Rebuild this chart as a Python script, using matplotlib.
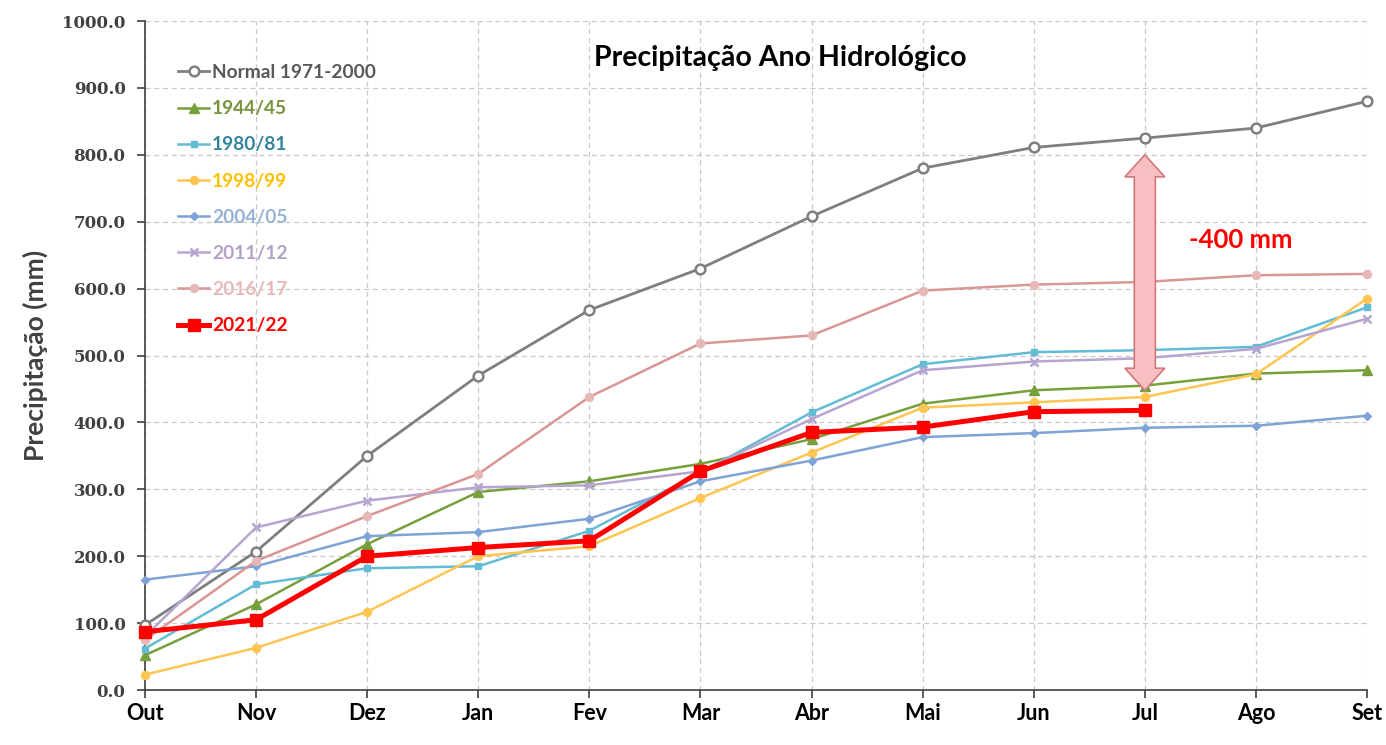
import numpy as np
import matplotlib
matplotlib.use("Agg")
import matplotlib.pyplot as plt
from matplotlib.patches import Polygon

plt.rcParams["font.family"] = ["Lato", "DejaVu Sans"]

# ---------------------------------------------------------------------------
# Data (precipitacao acumulada, mm)
# ---------------------------------------------------------------------------
months = ["Out", "Nov", "Dez", "Jan", "Fev", "Mar", "Abr", "Mai", "Jun", "Jul", "Ago", "Set"]

normal = [97, 207, 350, 470, 568, 630, 708, 780, 811, 825, 840, 880]
y1944 = [52, 128, 218, 296, 312, 338, 375, 428, 448, 455, 473, 478]
y1980 = [62, 158, 182, 185, 238, 325, 415, 487, 505, 508, 513, 572]
y1998 = [23, 63, 117, 200, 215, 287, 355, 422, 430, 438, 472, 585]
y2004 = [165, 185, 230, 236, 256, 312, 343, 378, 384, 392, 395, 410]
y2011 = [80, 243, 283, 303, 306, 327, 405, 478, 491, 496, 510, 555]
y2016 = [75, 193, 260, 323, 438, 518, 530, 597, 606, 610, 620, 622]
y2021 = [87, 105, 200, 213, 223, 327, 385, 393, 416, 418]

deficit_label = "-400 mm"

# label, values, line colour, marker, marker size, line width, text colour
series = [
    ("Normal 1971-2000", normal, "#7f7f7f", "o", 7, 2.0, "#595959"),
    ("1944/45", y1944, "#77a03c", "^", 7, 1.8, "#77933c"),
    ("1980/81", y1980, "#62bcd4", "s", 5, 1.8, "#31859c"),
    ("1998/99", y1998, "#ffc553", "o", 5, 1.8, "#ffc000"),
    ("2004/05", y2004, "#7ea3d6", "D", 4, 1.8, "#95b3d7"),
    ("2011/12", y2011, "#b6a5d0", "x", 6, 1.8, "#b3a2c7"),
    ("2016/17", y2016, "#d99694", "o", 5, 1.8, "#e6b9b8"),
    ("2021/22", y2021, "#ff0000", "s", 8, 3.6, "#ff0000"),
]

# ---------------------------------------------------------------------------
# Figure
# ---------------------------------------------------------------------------
fig = plt.figure(figsize=(13.86, 7.45), dpi=100)
ax = fig.add_axes([0.1046, 0.0738, 0.8817, 0.898])

for label, vals, color, marker, ms, lw, _ in series:
    x = np.arange(len(vals))
    if label.startswith("Normal"):
        mfc, mec = "white", color
    elif label == "2016/17":
        mfc, mec = "#e6b9b8", "#e6b9b8"
    else:
        mfc, mec = color, color
    ax.plot(x, vals, color=color, lw=lw, marker=marker, ms=ms,
            mfc=mfc, mec=mec, mew=1.8 if marker in "ox" else 1.0,
            label=label, clip_on=False, zorder=5 if label == "2021/22" else 3)

# double arrow between normal and 2021/22 at the last observed month
jx = len(y2021) - 1
top = normal[jx] - 25
bot = y2021[jx] + 30
bw, hw, hl = 0.095, 0.18, 33
arrow = [
    (jx, top), (jx + hw, top - hl), (jx + bw, top - hl),
    (jx + bw, bot + hl), (jx + hw, bot + hl), (jx, bot),
    (jx - hw, bot + hl), (jx - bw, bot + hl), (jx - bw, top - hl),
    (jx - hw, top - hl),
]
ax.add_patch(Polygon(arrow, closed=True, facecolor="#f7bfc1",
                     edgecolor="#d4787b", lw=1.2, zorder=6))
ax.text(jx + 0.865, 672, deficit_label, color="#ff0000", fontsize=18.5,
        fontweight="bold", ha="center", va="center")

ax.text(0.52, 0.945, "Precipitação Ano Hidrológico", transform=ax.transAxes,
        ha="center", va="center", fontsize=20.5, fontweight="bold", color="black")

# axes styling
ax.set_xlim(0, len(months) - 1)
ax.set_ylim(0, 1000)
ax.set_xticks(np.arange(len(months)))
ax.set_xticklabels(months, fontsize=15.5, fontweight="bold")
ax.set_yticks(np.arange(0, 1001, 100))
ax.set_yticklabels([f"{v:.1f}" for v in np.arange(0, 1001, 100)],
                   fontsize=12, fontweight="bold", color="#404040",
                   family=["DejaVu Serif"])
ax.tick_params(axis="both", direction="out", length=6, width=1.2, color="#404040")
ax.tick_params(axis="y", pad=8)
ax.grid(True, ls=(0, (4, 3)), color="#c8c8c8", lw=0.9)
ax.set_axisbelow(True)
for s in ["top", "right"]:
    ax.spines[s].set_visible(False)
for s in ["left", "bottom"]:
    ax.spines[s].set_color("#404040")
    ax.spines[s].set_linewidth(1.2)
ax.set_ylabel("Precipitação (mm)", fontsize=19, fontweight="bold",
              color="#404040", labelpad=10)

leg = ax.legend(loc="upper left", bbox_to_anchor=(0.021, 0.947), frameon=False,
                fontsize=13.8, handlelength=1.6, handletextpad=0.15,
                labelspacing=1.0, borderaxespad=0)
for txt, s in zip(leg.get_texts(), series):
    txt.set_color(s[6])
    txt.set_fontweight("bold")

fig.savefig("out.png", dpi=100, facecolor="white")
